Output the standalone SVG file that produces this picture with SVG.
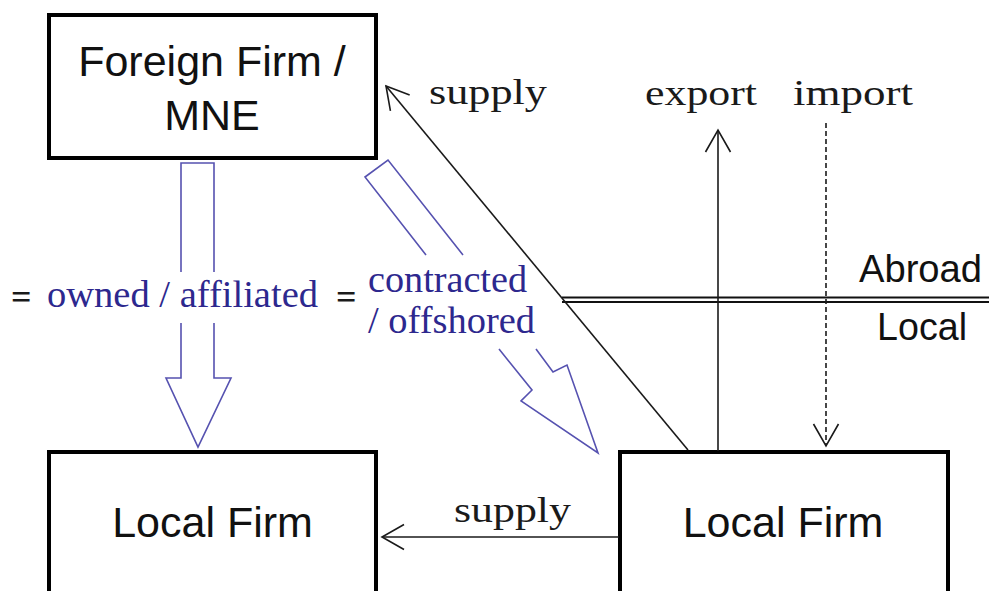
<svg xmlns="http://www.w3.org/2000/svg" width="989" height="591" viewBox="0 0 989 591">
<defs>
<marker id="v" markerUnits="userSpaceOnUse" markerWidth="40" markerHeight="40" refX="0" refY="0" viewBox="-30 -20 40 40" orient="auto" overflow="visible">
<path d="M-22,-12.5 L0,0 L-22,12.5" fill="none" stroke="#1a1a1a" stroke-width="1.6" stroke-dasharray="none"/>
</marker>
<style>
.box{fill:#fff;stroke:#000;stroke-width:4}
.sans{font-family:"Liberation Sans",Arial,sans-serif;fill:#111}
.serif{font-family:"Liberation Serif","Times New Roman",serif}
.ln{fill:none;stroke:#1a1a1a;stroke-width:1.6}
.hol{fill:none;stroke:#5652b0;stroke-width:1.6;stroke-linejoin:miter}
.blue{fill:#2d288e}
.blk{fill:#1a1a1a}
</style>
</defs>
<rect width="989" height="591" fill="#fff"/>

<g id="foreign-firm">
<rect class="box" x="49" y="15" width="327" height="143"/>
<text class="sans" x="212" y="76" font-size="43" text-anchor="middle">Foreign Firm /</text>
<text class="sans" x="212" y="130" font-size="43" text-anchor="middle">MNE</text>
</g>

<g id="local-firm-left">
<rect class="box" x="49" y="452" width="327" height="160"/>
<text class="sans" x="212.5" y="537" font-size="43" text-anchor="middle">Local Firm</text>
</g>

<g id="local-firm-right">
<rect class="box" x="620" y="452" width="328" height="160"/>
<text class="sans" x="783" y="537" font-size="43" text-anchor="middle">Local Firm</text>
</g>

<g id="border">
<line x1="562" y1="297.5" x2="989" y2="297.5" stroke="#111" stroke-width="2"/>
<line x1="562" y1="302" x2="989" y2="302" stroke="#111" stroke-width="2"/>
<text class="sans" x="859" y="282" font-size="38" textLength="123" lengthAdjust="spacingAndGlyphs">Abroad</text>
<text class="sans" x="877" y="340" font-size="38" textLength="90" lengthAdjust="spacingAndGlyphs">Local</text>
</g>

<g id="connectors">
<path class="ln" d="M688,450 L386,86" marker-end="url(#v)"/>
<path class="ln" d="M718,451 L718,130" marker-end="url(#v)"/>
<path class="ln" d="M826,123 L826,446" stroke-dasharray="5 3" marker-end="url(#v)"/>
<path class="ln" d="M619,537 L382,537" marker-end="url(#v)"/>
<path class="hol" d="M181,272 L181,163 L214,163 L214,272"/>
<path class="hol" d="M181,323 L181,378 L166,378 L198,447 L231,378 L214,378 L214,323"/>
<path class="hol" d="M426,255 L365,177 L388,160 L463,255"/>
<path class="hol" d="M499,349 L532,390 L521,401 L598,453 L567,365 L553,372 L536,349"/>
</g>

<g id="labels">
<text class="serif blk" x="429" y="104" font-size="35" textLength="118" lengthAdjust="spacingAndGlyphs">supply</text>
<text class="serif blk" x="645" y="105" font-size="35" textLength="112" lengthAdjust="spacingAndGlyphs">export</text>
<text class="serif blk" x="793" y="105" font-size="35" textLength="120" lengthAdjust="spacingAndGlyphs">import</text>
<text class="serif blk" x="454" y="522" font-size="35" textLength="117" lengthAdjust="spacingAndGlyphs">supply</text>
<text class="serif blk" x="11" y="309" font-size="36" font-weight="bold">=</text>
<text class="serif blk" x="336" y="309" font-size="36" font-weight="bold">=</text>
<text class="serif blue" x="47" y="307" font-size="38" textLength="271" lengthAdjust="spacingAndGlyphs">owned / affiliated</text>
<text class="serif blue" x="368" y="292" font-size="38" textLength="159" lengthAdjust="spacingAndGlyphs">contracted</text>
<text class="serif blue" x="368" y="333" font-size="38" textLength="167" lengthAdjust="spacingAndGlyphs">/ offshored</text>
</g>
</svg>
